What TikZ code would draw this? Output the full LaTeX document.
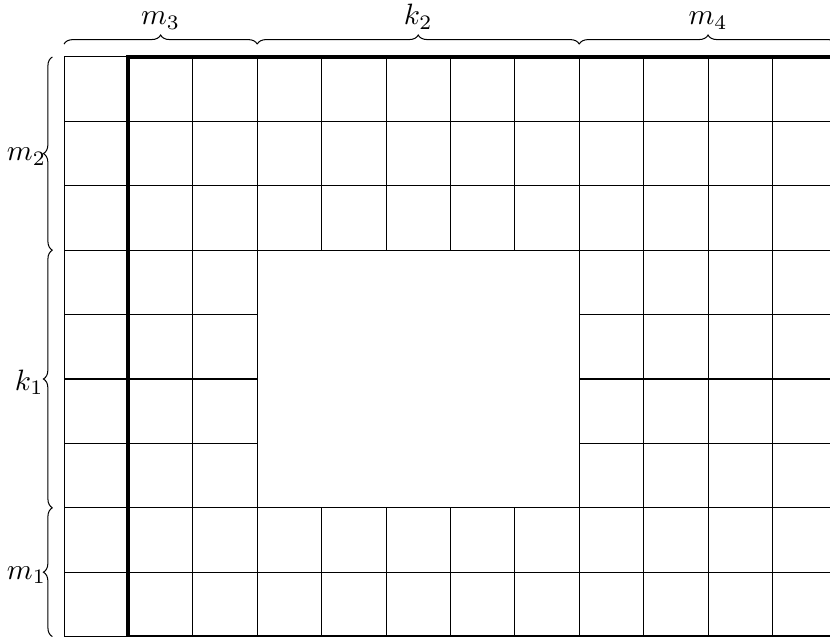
\documentclass[tikz,border=0pt]{standalone}
\usetikzlibrary{decorations.pathreplacing}
\begin{document}
\begin{tikzpicture}[x=1cm,y=-1cm,
  gridline/.style={line width=0.45pt,black},
  boldline/.style={line width=1.8pt,black},
  bracestyle/.style={decorate,decoration={brace,amplitude=4pt},line width=0.45pt},
  toplabel/.style={anchor=base,inner sep=0pt,scale=1.3},
  leftlabel/.style={anchor=east,inner sep=0pt,scale=1.3}]
\useasboundingbox (-0.994,-0.885) rectangle (11.894,9.006);
% horizontal grid lines
\foreach \r in {0,1,2,3,7,8,9} \draw[gridline] (0,\r) -- (12,\r);
\foreach \r in {4,5,6} {\draw[gridline] (0,\r) -- (3,\r); \draw[gridline] (8,\r) -- (12,\r);}
% vertical grid lines
\foreach \c in {0,1,2,3,8,9,10,11,12} \draw[gridline] (\c,0) -- (\c,9);
\foreach \c in {4,5,6,7} {\draw[gridline] (\c,0) -- (\c,3); \draw[gridline] (\c,7) -- (\c,9);}
% bold outline
\draw[boldline] (12,0) -- (1,0) -- (1,9) -- (12,9);
% top braces
\draw[bracestyle] (0,-0.2) -- (3,-0.2);
\draw[bracestyle] (3,-0.2) -- (8,-0.2);
\draw[bracestyle] (8,-0.2) -- (12,-0.2);
\node[toplabel] (m3) at (1.5,-0.5) {$m_3$};
\node[toplabel] (k2) at (5.5,-0.5) {$k_2$};
\node[toplabel] (m4) at (10,-0.5) {$m_4$};
% left braces
\draw[bracestyle] (-0.18,3) -- (-0.18,0);
\draw[bracestyle] (-0.18,7) -- (-0.18,3);
\draw[bracestyle] (-0.18,9) -- (-0.18,7);
\node[leftlabel] (m2) at (-0.27,1.55) {$m_2$};
\node[leftlabel] (k1) at (-0.31,5.05) {$k_1$};
\node[leftlabel] (m1) at (-0.27,8.05) {$m_1$};
\end{tikzpicture}
\end{document}
